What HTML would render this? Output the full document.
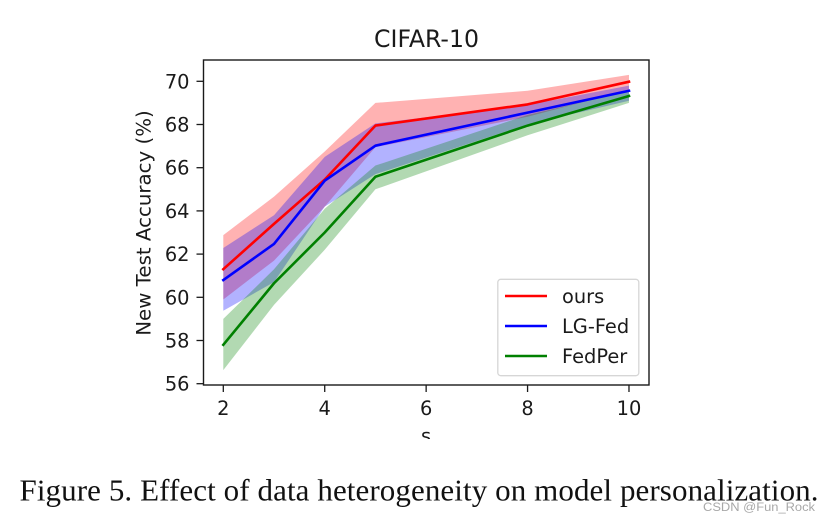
<!DOCTYPE html>
<html>
<head>
<meta charset="utf-8">
<style>
html,body{margin:0;padding:0;background:#fff;width:830px;height:522px;overflow:hidden}
svg{display:block}
text{font-family:"DejaVu Sans","Liberation Sans",sans-serif;fill:#1a1a1a}
.cap{font-family:"Liberation Serif",serif;fill:#111}
.wm{font-family:"Liberation Sans",sans-serif;fill:#a8a8a8}
</style>
</head>
<body>
<svg id="chart" width="830" height="522" viewBox="0 0 830 522" xmlns="http://www.w3.org/2000/svg">
  <defs><clipPath id="xlabel-clip"><rect x="400" y="420" width="60" height="19"/></clipPath></defs>
  <g id="bands"></g>
  <g id="lines"></g>
  <g id="axes"></g>
  <text x="426.5" y="47" text-anchor="middle" font-size="23.6">CIFAR-10</text>
  <text transform="translate(150.5,223) rotate(-90)" text-anchor="middle" font-size="19.8">New Test Accuracy (%)</text>
  <g clip-path="url(#xlabel-clip)">
    <text x="426" y="442.6" text-anchor="middle" font-size="19.4">s</text>
  </g>
  <g id="legend"></g>
  <text class="cap" x="19.5" y="500.7" font-size="31" textLength="799" lengthAdjust="spacing">Figure 5. Effect of data heterogeneity on model personalization.</text>
  <text class="wm" x="703" y="511" font-size="12.4" textLength="112" lengthAdjust="spacingAndGlyphs">CSDN @Fun_Rock</text>
</svg>
<script>
const sValues = [2, 3, 4, 5, 8, 10];
const xTicks = [2, 4, 6, 8, 10];
const yTicks = [56, 58, 60, 62, 64, 66, 68, 70];
const seriesNames = ['ours', 'LG-Fed', 'FedPer'];
const seriesColors = ['#ff0000', '#0000ff', '#008000'];
const oursMean = [61.3, 63.4, 65.45, 67.95, 68.93, 69.98];
const oursUpper = [62.88, 64.66, 66.75, 69.0, 69.56, 70.3];
const oursLower = [59.9, 61.7, 64.2, 66.95, 68.36, 69.6];
const lgFedMean = [60.8, 62.47, 65.4, 67.02, 68.55, 69.56];
const lgFedUpper = [62.28, 63.8, 66.5, 68.05, 68.9, 69.8];
const lgFedLower = [59.38, 60.7, 64.2, 65.7, 68.0, 69.1];
const fedPerMean = [57.8, 60.65, 63.0, 65.58, 67.95, 69.32];
const fedPerUpper = [59.0, 61.3, 64.1, 66.1, 68.44, 69.55];
const fedPerLower = [56.63, 59.65, 62.2, 65.0, 67.5, 69.0];

const means = [oursMean, lgFedMean, fedPerMean];
const uppers = [oursUpper, lgFedUpper, fedPerUpper];
const lowers = [oursLower, lgFedLower, fedPerLower];

const NS = 'http://www.w3.org/2000/svg';
const box = { left: 203.5, right: 649, top: 60, bottom: 385 };
function xScale(v) { return 223.3 + (v - 2) * 50.71; }
function yScale(v) { return 81.3 + (70 - v) * 21.6; }
function make(tag, attrs, parent) {
  const el = document.createElementNS(NS, tag);
  for (const k in attrs) el.setAttribute(k, attrs[k]);
  parent.appendChild(el);
  return el;
}
const bandsG = document.getElementById('bands');
const linesG = document.getElementById('lines');
const axesG = document.getElementById('axes');
const legendG = document.getElementById('legend');

seriesNames.forEach(function (name, i) {
  const top = sValues.map(function (s, j) { return xScale(s) + ',' + yScale(uppers[i][j]); });
  const bot = sValues.map(function (s, j) { return xScale(s) + ',' + yScale(lowers[i][j]); }).reverse();
  const band = make('polygon', { points: top.concat(bot).join(' '), fill: seriesColors[i], 'fill-opacity': 0.3 }, bandsG);
  
  
});
seriesNames.forEach(function (name, i) {
  const pts = sValues.map(function (s, j) { return xScale(s) + ',' + yScale(means[i][j]); });
  const line = make('polyline', { points: pts.join(' '), fill: 'none', stroke: seriesColors[i], 'stroke-width': 2.6, 'stroke-linejoin': 'round', 'stroke-linecap': 'square' }, linesG);
  
  
});

const frame = make('rect', { x: box.left, y: box.top, width: box.right - box.left, height: box.bottom - box.top, fill: 'none', stroke: '#1a1a1a', 'stroke-width': 1.4 }, axesG);



xTicks.forEach(function (t) {
  const x = xScale(t);
  const mark = make('line', { x1: x, x2: x, y1: box.bottom, y2: box.bottom + 7, stroke: '#1a1a1a', 'stroke-width': 1.3 }, axesG);
  
  
  const label = make('text', { x: x, y: 415, 'text-anchor': 'middle', 'font-size': 19.4 }, axesG);
  label.textContent = t;
  
  
});
yTicks.forEach(function (t) {
  const y = yScale(t);
  const mark = make('line', { x1: box.left - 7, x2: box.left, y1: y, y2: y, stroke: '#1a1a1a', 'stroke-width': 1.3 }, axesG);
  
  
  const label = make('text', { x: 189.5, y: y + 7, 'text-anchor': 'end', 'font-size': 19.4 }, axesG);
  label.textContent = t;
  
  
});

const legendBox = make('rect', { x: 497.8, y: 279.3, width: 141, height: 96.4, rx: 3, fill: '#fff', 'fill-opacity': 0.8, stroke: '#d6d6d6', 'stroke-width': 1.3 }, legendG);


seriesNames.forEach(function (name, i) {
  const y = 296 + i * 30;
  const sw = make('line', { x1: 505, x2: 547, y1: y, y2: y, stroke: seriesColors[i], 'stroke-width': 2.6 }, legendG);
  
  
  const label = make('text', { x: 562, y: y + 7, 'font-size': 19.4 }, legendG);
  label.textContent = name;
  
  
});
</script>
</body>
</html>
